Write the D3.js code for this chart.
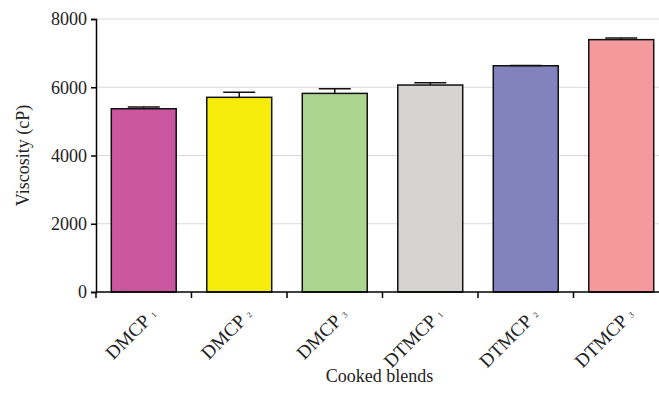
<!DOCTYPE html>
<html>
<head>
<meta charset="utf-8">
<script src="https://d3js.org/d3.v7.min.js"></script>
<style>
  body { margin: 0; background: #fff; }
  svg { display: block; font-family: "Liberation Serif", "DejaVu Serif", serif; }
</style>
</head>
<body>
<script>
// chart data
const blends = ['DMCP', 'DMCP', 'DMCP', 'DTMCP', 'DTMCP', 'DTMCP'];
const subscripts = ['1', '2', '3', '1', '2', '3'];
const viscosity = [5370, 5705, 5820, 6065, 6630, 7395];
const errors = [50, 145, 135, 65, 10, 45];
const barColors = ['#c9569e', '#f5ec0c', '#acd592', '#d5d4d2', '#8283be', '#f49a9d'];
const yTicks = [0, 2000, 4000, 6000, 8000];

const width = 659, height = 404;
const margin = { top: 19, right: -10, bottom: 112, left: 96 };

const svg = d3.select('body').append('svg')
  .attr('width', width)
  .attr('height', height);

const keys = blends.map((d, i) => i);

const x = d3.scaleBand()
  .domain(keys)
  .range([margin.left, width - margin.right])
  .paddingInner(0.32)
  .paddingOuter(0.16);

const y = d3.scaleLinear()
  .domain([0, 8000])
  .range([height - margin.bottom, margin.top]);

// grid
svg.append('g')
  .selectAll('line')
  .data(yTicks.filter(d => d > 0))
  .join('line')
  .attr('x1', margin.left)
  .attr('x2', width)
  .attr('y1', d => y(d))
  .attr('y2', d => y(d))
  .attr('stroke', '#d9d9d9')
  .attr('stroke-width', 1.2);

// bars
svg.append('g')
  .selectAll('rect')
  .data(keys)
  .join('rect')
  .attr('x', i => x(i))
  .attr('y', i => y(viscosity[i]))
  .attr('width', x.bandwidth())
  .attr('height', i => y(0) - y(viscosity[i]))
  .attr('fill', i => barColors[i])
  .attr('stroke', '#111')
  .attr('stroke-width', 1.5);

// error bars (upper only)
const err = svg.append('g').attr('stroke', '#111').attr('stroke-width', 1.5);
keys.forEach(i => {
  const cx = x(i) + x.bandwidth() / 2;
  const top = y(viscosity[i] + errors[i]);
  err.append('line')
    .attr('x1', cx).attr('x2', cx)
    .attr('y1', y(viscosity[i])).attr('y2', top);
  err.append('line')
    .attr('x1', cx - 16).attr('x2', cx + 16)
    .attr('y1', top).attr('y2', top);
});

// y axis
const yAxis = svg.append('g')
  .attr('transform', `translate(${margin.left},0)`)
  .call(d3.axisLeft(y).tickValues(yTicks).tickSize(5).tickPadding(4).tickFormat(d3.format('d')));
yAxis.select('.domain').attr('stroke', '#000').attr('stroke-width', 1.5);
yAxis.selectAll('.tick line').attr('stroke', '#000').attr('stroke-width', 1.5);
yAxis.selectAll('.tick text')
  .attr('font-family', '"Liberation Serif", serif')
  .attr('font-size', 18)
  .attr('fill', '#222');

// x axis: ticks sit on category boundaries
const bounds = keys.map(i => x(i) - (x(0) - margin.left));
svg.append('line')
  .attr('x1', margin.left).attr('x2', width)
  .attr('y1', y(0)).attr('y2', y(0))
  .attr('stroke', '#000').attr('stroke-width', 1.5);
svg.append('g')
  .selectAll('line')
  .data(bounds)
  .join('line')
  .attr('x1', d => d).attr('x2', d => d)
  .attr('y1', y(0)).attr('y2', y(0) + 6)
  .attr('stroke', '#000').attr('stroke-width', 1.5);

// x tick labels, rotated
const labels = svg.append('g')
  .selectAll('text')
  .data(keys)
  .join('text')
  .attr('transform', i => `translate(${x(i) + x.bandwidth() / 2 + 14},${y(0) + 24}) rotate(-45)`)
  .attr('text-anchor', 'end')
  .attr('font-size', 19)
  .attr('fill', '#222');
labels.append('tspan').text(i => blends[i]);
labels.append('tspan')
  .attr('font-size', 8)
  .attr('dx', 5)
  .attr('dy', -1)
  .text(i => subscripts[i]);

// axis titles
svg.append('text')
  .attr('x', (margin.left + width) / 2 + 2)
  .attr('y', height - 22)
  .attr('text-anchor', 'middle')
  .attr('font-size', 18)
  .attr('fill', '#222')
  .text('Cooked blends');

svg.append('text')
  .attr('transform', `translate(29,${(y(0) + y(8000)) / 2}) rotate(-90)`)
  .attr('text-anchor', 'middle')
  .attr('font-size', 18)
  .attr('fill', '#222')
  .text('Viscosity (cP)');
</script>
</body>
</html>
